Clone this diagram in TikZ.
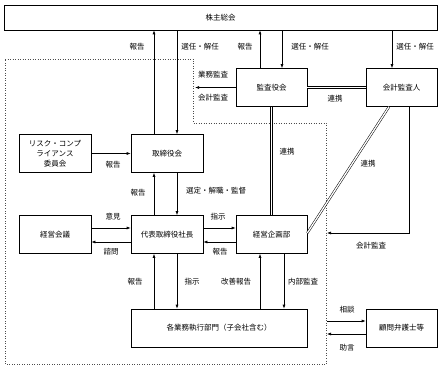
\documentclass[tikz,border=0pt]{standalone}
\usepackage{fontspec}
\setmainfont{Noto Sans CJK JP}
\usetikzlibrary{arrows.meta,positioning}

\begin{document}
\begin{tikzpicture}[x=1pt, y=-1pt,
        box/.style={draw, line width=0.6pt, minimum width=72pt, minimum height=38pt,
                                inner sep=1pt, align=center, font=\fontsize{7.5}{10}\selectfont},
        lab/.style={inner sep=0pt, font=\fontsize{7.5}{9}\selectfont},
        arr/.style={-{Latex[length=4pt,width=3pt]}, line width=0.6pt},
        twin/.style={double, double distance=1.3pt, line width=0.5pt},
        fence/.style={dotted, line width=0.5pt, black!70}
]
    \useasboundingbox (0,0) rectangle (442,374);
    % boxes
    \node[box, minimum width=433pt, minimum height=25pt] (soukai) at (220.5,17.5) {株主総会};
    \node[box, minimum width=71pt] (kansa)  at (271.5,87.5) {監査役会};
    \node[box, minimum width=71pt] (kaikei) at (401.5,87.5) {会計監査人};
    \node[box] (risk)        at (55,153.5)  {リスク・コンプ\\ライアンス\\委員会};
    \node[box] (torishimari) at (167,153.5) {取締役会};
    \node[box] (kaigi)       at (55,234.5)  {経営会議};
    \node[box] (daihyo)      at (167,234.5) {代表取締役社長};
    \node[box, minimum width=71pt] (kikaku) at (271.5,234.5) {経営企画部};
    \node[box, minimum width=176pt] (gyomu) at (219,328) {各業務執行部門（子会社含む）};
    \node[box, minimum width=71pt] (komon)  at (401.5,328) {顧問弁護士等};
    % dotted region
    \draw[fence] (5,59) -- (193,59) -- (193,123) -- (326,123) -- (326,364) -- (5,364) -- cycle;
    \coordinate (fenceN) at (195,123);
    \coordinate (auditIn) at (327,233);
    \coordinate (askL) at (327,321);
    \coordinate (advL) at (327,334);
    % connectors
    \draw[arr] ([xshift=-13pt]torishimari.north) -- ([xshift=-13pt]torishimari.north |- soukai.south);
    \draw[arr] ([xshift=10pt]torishimari.north |- soukai.south) -- ([xshift=10pt]torishimari.north);
    \draw[arr] ([xshift=-11.5pt]kansa.north) -- ([xshift=-11.5pt]kansa.north |- soukai.south);
    \draw[arr] ([xshift=10.5pt]kansa.north |- soukai.south) -- ([xshift=10.5pt]kansa.north);
    \draw[arr] ([xshift=-9.5pt]kaikei.north |- soukai.south) -- ([xshift=-9.5pt]kaikei.north);
    \draw[arr] (kansa.west) -- (kansa.west -| fenceN);
    \draw[twin] (kansa.east) -- (kaikei.west);
    \draw[twin] (kansa.south) -- (kikaku.north);
    \draw[twin] ([xshift=-12.5pt]kaikei.south) -- ([yshift=1.5pt]kikaku.east);
    \draw[arr] ([xshift=7.5pt]kaikei.south) |- (auditIn);
    \draw[arr] (risk.east) -- (torishimari.west);
    \draw[arr] ([xshift=-13pt]daihyo.north) -- ([xshift=-13pt]torishimari.south);
    \draw[arr] ([xshift=10pt]torishimari.south) -- ([xshift=10pt]daihyo.north);
    \draw[arr] ([yshift=6.5pt]kaigi.east) -- ([yshift=6.5pt]daihyo.west);
    \draw[arr] ([yshift=-7.5pt]daihyo.west) -- ([yshift=-7.5pt]kaigi.east);
    \draw[arr] ([yshift=6.5pt]daihyo.east) -- ([yshift=6.5pt]kikaku.west);
    \draw[arr] ([yshift=-7.5pt]kikaku.west) -- ([yshift=-7.5pt]daihyo.east);
    \draw[arr] ([xshift=-13pt]daihyo.south |- gyomu.north) -- ([xshift=-13pt]daihyo.south);
    \draw[arr] ([xshift=10pt]daihyo.south) -- ([xshift=10pt]daihyo.south |- gyomu.north);
    \draw[arr] ([xshift=-11.5pt]kikaku.south |- gyomu.north) -- ([xshift=-11.5pt]kikaku.south);
    \draw[arr] ([xshift=12.5pt]kikaku.south) -- ([xshift=12.5pt]kikaku.south |- gyomu.north);
    \draw[arr] (askL) -- (askL -| komon.west);
    \draw[arr] (advL -| komon.west) -- (advL);
    % labels
    \node[lab] (l1)  at (137,47)  {報告};
    \node[lab] (l2)  at (200,47)  {選任・解任};
    \node[lab] (l3)  at (245,47)  {報告};
    \node[lab] (l4)  at (310,47)  {選任・解任};
    \node[lab] (l5)  at (415,47)  {選任・解任};
    \node[lab] (l6)  at (213,75)  {業務監査};
    \node[lab] (l7)  at (213,98)  {会計監査};
    \node[lab] (l8)  at (335,99)  {連携};
    \node[lab] (l9)  at (287,152) {連携};
    \node[lab] (l10) at (368,164) {連携};
    \node[lab] (l11) at (113,165) {報告};
    \node[lab] (l12) at (138,193) {報告};
    \node[lab] (l13) at (216,191) {選定・解職・監督};
    \node[lab] (l14) at (113,217) {意見};
    \node[lab] (l15) at (111,252) {諮問};
    \node[lab] (l16) at (218,217) {指示};
    \node[lab] (l17) at (220,252) {報告};
    \node[lab] (l18) at (371,246) {会計監査};
    \node[lab] (l19) at (135,282) {報告};
    \node[lab] (l20) at (192,282) {指示};
    \node[lab] (l21) at (236,282) {改善報告};
    \node[lab] (l22) at (303,282) {内部監査};
    \node[lab] (l23) at (347,310) {相談};
    \node[lab] (l24) at (347,348) {助言};
\end{tikzpicture}
\end{document}
